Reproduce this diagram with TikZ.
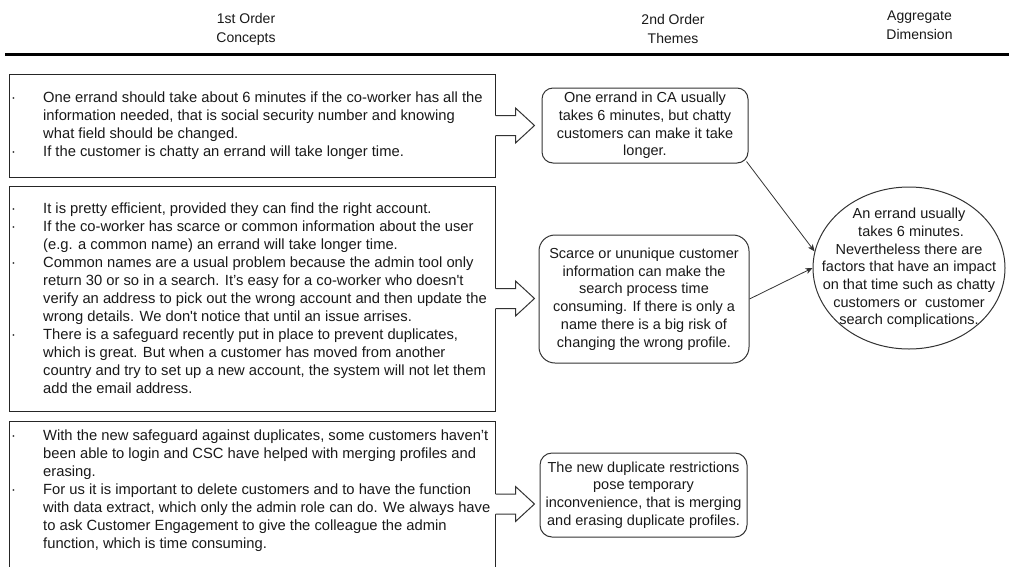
\documentclass[tikz,border=0pt]{standalone}
\usepackage{fontspec}
\setmainfont{Liberation Sans}
\usetikzlibrary{arrows.meta,calc,shapes.geometric}

% bullet set in the left margin of a concept box
\newcommand{\bul}{\llap{\makebox[32pt][l]{·}}}
\newcommand{\sq}{\textquotesingle}

\tikzset{
  conceptbox/.style={draw=black!85, line width=1pt, fill=none, inner sep=0pt, rectangle},
  concepttext/.style={anchor=west, inner sep=0pt, align=left,
    font=\fontsize{14.75}{18}\selectfont, text=black!90},
  theme/.style={draw=black!80, line width=1pt, inner sep=0pt, align=center,
    font=\fontsize{14.5}{17.7}\selectfont, text=black!90},
  aggregate/.style={ellipse, draw=black!80, line width=1pt, inner sep=0pt},
  aggtext/.style={inner sep=0pt, align=center,
    font=\fontsize{14.5}{17.7}\selectfont, text=black!90},
  heading/.style={align=center, inner sep=0pt, font=\fontsize{14}{19}\selectfont, text=black!90},
  link/.style={draw=black!80, line width=0.8pt, -{Stealth[length=7pt,width=6pt,inset=2pt]}},
  blockarrow/.pic={
    \fill[white] (-0.8,-10) -- (20,-10) -- (20,-17.5) -- (39,0) -- (20,17.5) -- (20,10) -- (-0.8,10) -- cycle;
    \draw[draw=black!80, line width=1pt, line join=miter] (0,-10) -- (20,-10) -- (20,-17.5) -- (39,0) -- (20,17.5) -- (20,10) -- (0,10);
  }
}

\begin{document}
\begin{tikzpicture}[x=1pt, y=-1pt]
\useasboundingbox (0,0) rectangle (1009,566);
\clip (0,0) rectangle (1009,566);

% column headings and rule
\node[heading] (h1) at (246,29) {1st Order\\Concepts};
\node[heading] (h2) at (673,29) {2nd Order\\Themes};
\node[heading] (h3) at (919.5,25.5) {Aggregate\\Dimension};
\coordinate (ruleL) at (5,54);
\coordinate (ruleR) at (1009,54);
\draw[line width=3pt] (ruleL) -- (ruleR);

% first order concepts
\node[conceptbox, minimum width=486pt, minimum height=103pt] (c1) at (252,125.5) {};
\node[conceptbox, minimum width=486pt, minimum height=225pt] (c2) at (252,298.5) {};
\node[conceptbox, minimum width=486pt, minimum height=166pt] (c3) at (252,504) {};

\node[concepttext] (c1t) at (43,125.5) {%
\bul One errand should take about 6 minutes if the co-worker has all the\\
information needed, that is social security number and knowing\\
what field should be changed.\\
\bul If the customer is chatty an errand will take longer time.};

\node[concepttext] (c2t) at (43,298.5) {%
\bul It is pretty efficient, provided they can find the right account.\\
\bul If the co-worker has scarce or common information about the user\\
(e.g. a common name) an errand will take longer time.\\
\bul Common names are a usual problem because the admin tool only\\
return 30 or so in a search. It’s easy for a co-worker who doesn\sq t\\
verify an address to pick out the wrong account and then update the\\
wrong details. We don\sq t notice that until an issue arrises.\\
\bul There is a safeguard recently put in place to prevent duplicates,\\
which is great. But when a customer has moved from another\\
country and try to set up a new account, the system will not let them\\
add the email address.};

\node[concepttext] (c3t) at (43,491) {%
\bul With the new safeguard against duplicates, some customers haven’t\\
been able to login and CSC have helped with merging profiles and\\
erasing.\\
\bul For us it is important to delete customers and to have the function\\
with data extract, which only the admin role can do. We always have\\
to ask Customer Engagement to give the colleague the admin\\
function, which is time consuming.};

% block arrows from concepts to themes
\pic at (c1.east) {blockarrow};
\pic at (c2.east) {blockarrow};
\pic at (c3.east) {blockarrow};

% second order themes
\node[theme, rounded corners=11pt, minimum width=206pt, minimum height=75pt] (t1) at (645,125.5)
  {One errand in CA usually\\takes 6 minutes, but chatty\\customers can make it take\\longer.};
\node[theme, rounded corners=16pt, minimum width=210pt, minimum height=128pt] (t2) at (644,299)
  {Scarce or ununique customer\\information can make the\\search process time\\consuming. If there is only a\\name there is a big risk of\\changing the wrong profile.};
\node[theme, rounded corners=12pt, minimum width=207pt, minimum height=84pt] (t3) at (643.5,495)
  {The new duplicate restrictions\\pose temporary\\inconvenience, that is merging\\and erasing duplicate profiles.};

% aggregate dimension: fixed-size ellipse with its label laid over it
\node[aggregate, minimum width=192pt, minimum height=162pt] (agg) at (909,268) {};
\node[aggtext] (aggt) at (agg.center)
  {An errand usually\\\ takes 6 minutes.\\Nevertheless there are\\factors that have an impact\\on that time such as chatty\\customers or\ \ customer\\search complications.};

\draw[link] ($(t1.south east)+(-2,-2)$) -- (agg.170);
\draw[link] (t2.east) -- (agg.180);
\end{tikzpicture}
\end{document}
